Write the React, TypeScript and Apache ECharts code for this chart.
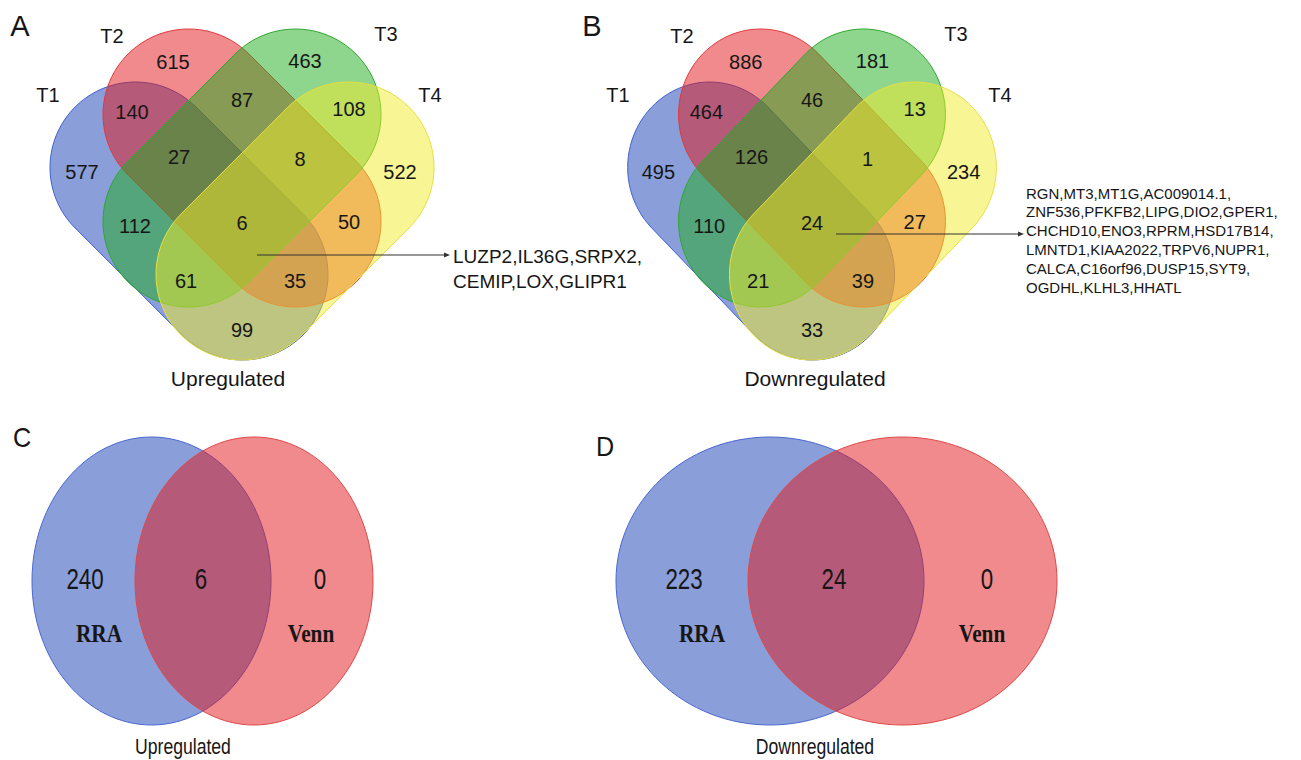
import React, { useEffect, useRef } from "react";
import * as echarts from "echarts";

// ---------- data ----------
const setNames = ["T1", "T2", "T3", "T4"];
// region keys: which sets a region belongs to
const regionKeys = ["1", "2", "3", "4", "12", "13", "14", "23", "24", "34", "123", "124", "134", "234", "1234"];
const upCounts = [577, 615, 463, 522, 140, 112, 99, 87, 50, 108, 27, 35, 61, 8, 6];
const downCounts = [495, 886, 181, 234, 464, 110, 33, 46, 27, 13, 126, 39, 21, 1, 24];
const upShared = ["LUZP2", "IL36G", "SRPX2", "CEMIP", "LOX", "GLIPR1"];
const downShared = [
  "RGN", "MT3", "MT1G", "AC009014.1",
  "ZNF536", "PFKFB2", "LIPG", "DIO2", "GPER1",
  "CHCHD10", "ENO3", "RPRM", "HSD17B14",
  "LMNTD1", "KIAA2022", "TRPV6", "NUPR1",
  "CALCA", "C16orf96", "DUSP15", "SYT9",
  "OGDHL", "KLHL3", "HHATL",
];
const twoSetNames = ["RRA", "Venn"];
const upTwo = [240, 6, 0]; // RRA only, both, Venn only
const downTwo = [223, 24, 0];
const panelTitles = ["Upregulated", "Downregulated"];

// ---------- layout ----------
const FONT = "'Liberation Sans', Arial, Helvetica, sans-serif";
const SERIF = "'Liberation Serif', 'Times New Roman', serif";
const TXT = "#161616";
const R = 85.5;
// capsule axis ends, relative to panel centre x
const capsules = [
  { c1: [-106.5, 167.5], c2: [0.5, 274.5], fill: "rgba(21,61,179,0.5)", stroke: "#4060cc" },
  { c1: [-53.5, 114.5], c2: [53.5, 221.5], fill: "rgba(225,21,25,0.5)", stroke: "#e03a3a" },
  { c1: [53.5, 114.5], c2: [-53.5, 221.5], fill: "rgba(29,171,29,0.5)", stroke: "#2ea82e" },
  { c1: [106.5, 167.5], c2: [-0.5, 274.5], fill: "rgba(241,235,41,0.5)", stroke: "#e6e040" },
];
const regionPos = [
  [-160, 172], [-69, 62], [63, 61], [158, 172], [-110, 112], [-107, 226], [0, 330], [0, 100],
  [107, 222], [107, 109], [-63, 157], [53, 281], [-56, 281], [58, 159], [0, 223],
];
const setLabelPos = [[-194, 95], [-130, 36], [144, 34], [188, 95]];

function capsulePoints(c1: number[], c2: number[], r: number, cx: number, sx: number) {
  const pts: number[][] = [];
  const th = Math.atan2(c2[1] - c1[1], c2[0] - c1[0]);
  const N = 48;
  for (let i = 0; i <= N; i++) {
    const a = th - Math.PI / 2 + (Math.PI * i) / N;
    pts.push([c2[0] + r * Math.cos(a), c2[1] + r * Math.sin(a)]);
  }
  for (let i = 0; i <= N; i++) {
    const a = th + Math.PI / 2 + (Math.PI * i) / N;
    pts.push([c1[0] + r * Math.cos(a), c1[1] + r * Math.sin(a)]);
  }
  return pts.map((p) => [cx + p[0] * sx, p[1]]);
}

function txt(x: number, y: number, text: string, size: number, opts: any = {}) {
  return {
    type: "text",
    x,
    y,
    scaleX: opts.scaleX ?? 1,
    z: 10,
    style: {
      x: 0,
      y: 0,
      text,
      fill: TXT,
      font: `${opts.weight ?? "normal"} ${size}px ${opts.family ?? FONT}`,
      align: opts.align ?? "center",
      verticalAlign: "middle",
      textAlign: opts.align ?? "center",
      textVerticalAlign: "middle",
    },
  };
}

function fourVenn(cx: number, sx: number, counts: number[], letter: string, lx: number, title: string) {
  const els: any[] = [];
  capsules.forEach((c) => {
    els.push({
      type: "polygon",
      shape: { points: capsulePoints(c.c1, c.c2, R, cx, sx) },
      style: { fill: c.fill, stroke: c.stroke, lineWidth: 1 },
    });
  });
  counts.forEach((v, i) => {
    els.push(txt(cx + regionPos[i][0] * sx, regionPos[i][1], String(v), 20));
  });
  setNames.forEach((n, i) => {
    els.push(txt(cx + setLabelPos[i][0], setLabelPos[i][1], n, 20));
  });
  els.push(txt(lx, 26, letter, 29));
  els.push(txt(cx - 14 + (sx < 1 ? 17 : 0), 378, title, 21));
  return els;
}

function twoVenn(
  blue: number[], red: number[], counts: number[], letter: string, letterPos: number[], title: string, titleX: number,
  numX: number[], nameX: number[]
) {
  const els: any[] = [];
  els.push({
    type: "ellipse",
    shape: { cx: blue[0], cy: 581, rx: blue[1], ry: 144 },
    style: { fill: "rgba(21,61,179,0.5)", stroke: "#4a68d0", lineWidth: 1 },
  });
  els.push({
    type: "ellipse",
    shape: { cx: red[0], cy: 581, rx: red[1], ry: 144 },
    style: { fill: "rgba(225,21,25,0.5)", stroke: "#e04848", lineWidth: 1 },
  });
  counts.forEach((v, i) => {
    els.push(txt(numX[i], 579, String(v), 29, { scaleX: 0.77 }));
  });
  twoSetNames.forEach((n, i) => {
    els.push(txt(nameX[i], 633, n, 26, { scaleX: 0.82, weight: "bold", family: SERIF }));
  });
  els.push(txt(letterPos[0], letterPos[1], letter, 28, { scaleX: 0.9 }));
  els.push(txt(titleX, 746, title, 22, { scaleX: 0.8 }));
  return els;
}

function chunk(arr: string[], sizes: number[]) {
  const out: string[] = [];
  let k = 0;
  sizes.forEach((s, i) => {
    const part = arr.slice(k, k + s).join(",");
    k += s;
    out.push(i < sizes.length - 1 ? part + "," : part);
  });
  return out;
}

function arrow(x1: number, x2: number, y: number) {
  return [
    { type: "line", shape: { x1, y1: y, x2, y2: y }, style: { stroke: "#333", lineWidth: 1.2 }, z: 11 },
    {
      type: "polygon",
      shape: { points: [[x2 + 4, y], [x2 - 2, y - 2.5], [x2 - 2, y + 2.5]] },
      style: { fill: "#333" },
      z: 11,
    },
  ];
}

export default function App() {
  const ref = useRef<HTMLDivElement>(null);
  useEffect(() => {
    document.body.style.margin = "0";
    if (!ref.current) return;
    const chart = echarts.init(ref.current, undefined, { renderer: "svg" });
    const els: any[] = [];
    els.push(...fourVenn(242, 1, upCounts, "A", 20, panelTitles[0]));
    els.push(...fourVenn(812, 0.96, downCounts, "B", 592, panelTitles[1]));
    // A gene list
    els.push(...arrow(257, 446, 255));
    chunk(upShared, [3, 3]).forEach((line, i) => {
      els.push(txt(453, 256 + i * 25, line, 19, { align: "left" }));
    });
    // B gene list
    els.push(...arrow(836, 1020, 234));
    chunk(downShared, [4, 5, 4, 4, 4, 3]).forEach((line, i) => {
      els.push(txt(1026, 193 + i * 18.8, line, 15, { align: "left" }));
    });
    els.push(
      ...twoVenn([151.5, 119.5], [254, 119], upTwo, "C", [22, 438], panelTitles[0], 183, [85, 201, 320], [99, 311])
    );
    els.push(
      ...twoVenn([770, 154], [902.5, 154.5], downTwo, "D", [605, 447], panelTitles[1], 815, [684, 834, 987], [702, 982])
    );
    chart.setOption({ animation: false, graphic: { elements: els } });
    return () => chart.dispose();
  }, []);
  return <div ref={ref} style={{ width: 1301, height: 760 }} />;
}
